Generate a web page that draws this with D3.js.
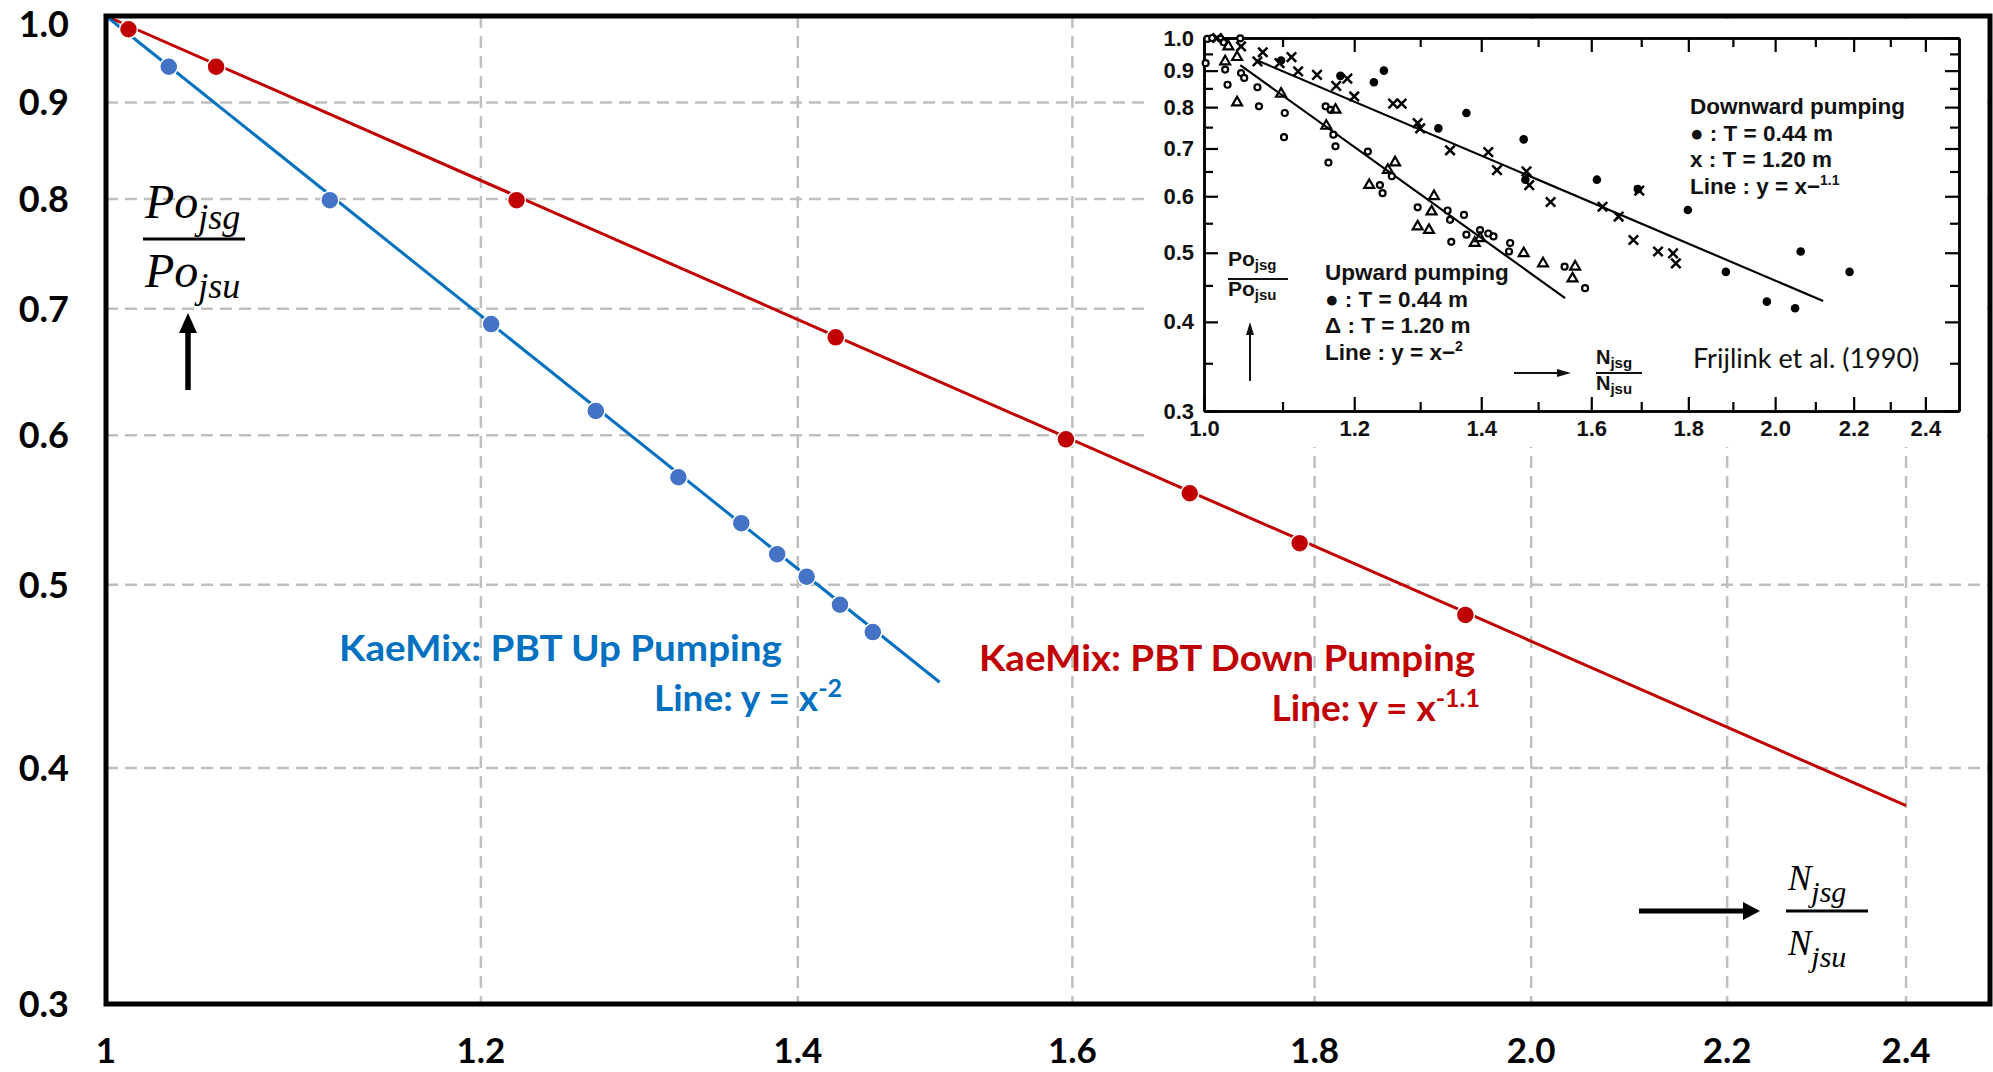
<!DOCTYPE html>
<html>
<head>
<meta charset="utf-8">
<script src="https://cdn.jsdelivr.net/npm/d3@7"></script>
<style>
body { margin: 0; background: #fff; }
</style>
</head>
<body>
<div id="chart"></div>
<script>
// main chart: KaeMix points
var xTicks = [1, 1.2, 1.4, 1.6, 1.8, 2.0, 2.2, 2.4]
var xTickLabels = ['1', '1.2', '1.4', '1.6', '1.8', '2.0', '2.2', '2.4']
var yTicks = [1.0, 0.9, 0.8, 0.7, 0.6, 0.5, 0.4, 0.3]
var yTickLabels = ['1.0', '0.9', '0.8', '0.7', '0.6', '0.5', '0.4', '0.3']

var upX = [1.031, 1.115, 1.206, 1.269, 1.321, 1.362, 1.386, 1.406, 1.429, 1.452]
var upY = [0.940, 0.799, 0.687, 0.618, 0.570, 0.539, 0.519, 0.505, 0.488, 0.472]
var downX = [1.011, 1.055, 1.221, 1.426, 1.595, 1.694, 1.787, 1.937]
var downY = [0.984, 0.940, 0.799, 0.676, 0.597, 0.559, 0.526, 0.482]
// fitted lines y = x^-2 and y = x^-1.1 (end points)
var upLine = [[1, 1], [1.5, 0.444]]
var downLine = [[1, 1], [2.4, 0.382]]

// inset: Frijlink et al. (1990)
var insXTicks = [1.0, 1.2, 1.4, 1.6, 1.8, 2.0, 2.2, 2.4]
var insXMinor = [1.1, 1.3, 1.5, 1.7, 1.9, 2.1, 2.3]
var insYTicks = [1.0, 0.9, 0.8, 0.7, 0.6, 0.5, 0.4, 0.3]
var insYMinor = [0.95, 0.85, 0.75, 0.65, 0.55, 0.45, 0.35]
var insUp044 = [
  [1.004, 0.997], [1.010, 1.0], [1.020, 0.998], [1.024, 0.986], [1.045, 0.999],
  [1.002, 0.922], [1.026, 0.903], [1.029, 0.860], [1.046, 0.893], [1.050, 0.879],
  [1.067, 0.853], [1.069, 0.802], [1.103, 0.785], [1.102, 0.726], [1.159, 0.802],
  [1.166, 0.793], [1.170, 0.732], [1.173, 0.705], [1.163, 0.669], [1.220, 0.693],
  [1.238, 0.622], [1.242, 0.606], [1.256, 0.640], [1.296, 0.579], [1.344, 0.573],
  [1.371, 0.565], [1.348, 0.556], [1.350, 0.518], [1.375, 0.530], [1.398, 0.538],
  [1.412, 0.532], [1.421, 0.527], [1.450, 0.516], [1.448, 0.502], [1.549, 0.478],
  [1.588, 0.446],
]
var insUp120 = [
  [1.030, 0.973], [1.026, 0.927], [1.041, 0.940], [1.041, 0.812], [1.098, 0.835],
  [1.160, 0.753], [1.173, 0.793], [1.222, 0.622], [1.250, 0.653], [1.261, 0.669],
  [1.322, 0.600], [1.318, 0.571], [1.296, 0.544], [1.314, 0.538], [1.389, 0.516],
  [1.398, 0.524], [1.474, 0.499], [1.509, 0.483], [1.569, 0.478], [1.564, 0.460],
]
var insDown044 = [
  [1.098, 0.930], [1.229, 0.867], [1.244, 0.900], [1.180, 0.885], [1.375, 0.785],
  [1.329, 0.747], [1.474, 0.721], [1.477, 0.633], [1.611, 0.633], [1.693, 0.614],
  [1.799, 0.574], [1.884, 0.470], [1.980, 0.427], [2.049, 0.418], [2.063, 0.502],
  [2.189, 0.470],
]
var insDown120 = [
  [1.016, 1.0], [1.046, 0.973], [1.067, 0.927], [1.074, 0.955], [1.096, 0.922],
  [1.112, 0.940], [1.121, 0.898], [1.147, 0.888], [1.174, 0.857], [1.190, 0.877],
  [1.200, 0.828], [1.258, 0.809], [1.271, 0.809], [1.296, 0.760], [1.300, 0.747],
  [1.348, 0.696], [1.412, 0.692], [1.427, 0.653], [1.479, 0.650], [1.484, 0.622],
  [1.523, 0.589], [1.622, 0.580], [1.654, 0.562], [1.684, 0.521], [1.735, 0.502],
  [1.767, 0.499], [1.773, 0.483], [1.696, 0.611],
]
var insUpLine = [[1.045, 0.916], [1.55, 0.432]]
var insDownLine = [[1.067, 0.930], [2.12, 0.428]]

var red = '#C00000', blueLine = '#0070C0', blueDot = '#4472C4'

var svg = d3
  .select('#chart')
  .append('svg')
  .attr('width', 1993)
  .attr('height', 1072)
  .attr('font-family', "Lato, 'Open Sans', sans-serif")
svg.append('rect').attr('width', 1993).attr('height', 1072).attr('fill', '#fff')

var x = d3.scaleLog().domain([1, 2.5]).range([106, 1990])
var y = d3.scaleLog().domain([0.3, 1]).range([1004, 16])

// grid
svg.append('g')
  .selectAll('line')
  .data(xTicks.slice(1))
  .join('line')
  .attr('x1', d => x(d)).attr('x2', d => x(d))
  .attr('y1', y(1)).attr('y2', y(0.3))
  .attr('stroke', '#BFBFBF').attr('stroke-width', 2.5).attr('stroke-dasharray', '12,8')
svg.append('g')
  .selectAll('line')
  .data(yTicks.slice(1, -1))
  .join('line')
  .attr('x1', x(1)).attr('x2', x(2.5))
  .attr('y1', d => y(d)).attr('y2', d => y(d))
  .attr('stroke', '#BFBFBF').attr('stroke-width', 2.5).attr('stroke-dasharray', '12,7')

// tick labels
svg.append('g')
  .selectAll('text')
  .data(xTicks)
  .join('text')
  .attr('x', d => x(d))
  .attr('y', 1063)
  .attr('text-anchor', 'middle')
  .attr('font-size', 35).attr('font-weight', 700)
  .text((d, i) => xTickLabels[i])
svg.append('g')
  .selectAll('text')
  .data(yTicks)
  .join('text')
  .attr('x', 69)
  .attr('y', d => Math.max(y(d), 24))
  .attr('dy', '0.36em')
  .attr('text-anchor', 'end')
  .attr('font-size', 36).attr('font-weight', 700)
  .text((d, i) => yTickLabels[i])

// fitted lines
var line = d3.line().x(d => x(d[0])).y(d => y(d[1]))
svg.append('path').attr('d', line(downLine)).attr('fill', 'none').attr('stroke', red).attr('stroke-width', 3)
svg.append('path').attr('d', line(upLine)).attr('fill', 'none').attr('stroke', blueLine).attr('stroke-width', 3)

svg.append('g')
  .selectAll('circle')
  .data(downX)
  .join('circle')
  .attr('cx', d => x(d))
  .attr('cy', (d, i) => y(downY[i]))
  .attr('r', 9)
  .attr('fill', red).attr('stroke', '#fff').attr('stroke-width', 1.5)
svg.append('g')
  .selectAll('circle')
  .data(upX)
  .join('circle')
  .attr('cx', d => x(d))
  .attr('cy', (d, i) => y(upY[i]))
  .attr('r', 9)
  .attr('fill', blueDot).attr('stroke', '#fff').attr('stroke-width', 1.5)

// series labels
svg.append('text').attr('x', 339).attr('y', 661).attr('font-size', 36).attr('font-weight', 700).attr('fill', blueLine)
  .attr('textLength', 443).attr('lengthAdjust', 'spacingAndGlyphs')
  .text('KaeMix: PBT Up Pumping')
var t2 = svg.append('text').attr('x', 842).attr('y', 711).attr('text-anchor', 'end').attr('font-size', 37).attr('font-weight', 700).attr('fill', blueLine)
t2.append('tspan').text('Line: y = x')
t2.append('tspan').attr('font-size', 25).attr('dy', -14).text('-2')
svg.append('text').attr('x', 979).attr('y', 671).attr('font-size', 36).attr('font-weight', 700).attr('fill', red)
  .attr('textLength', 496).attr('lengthAdjust', 'spacingAndGlyphs')
  .text('KaeMix: PBT Down Pumping')
var t4 = svg.append('text').attr('x', 1480).attr('y', 721).attr('text-anchor', 'end').attr('font-size', 37).attr('font-weight', 700).attr('fill', red)
t4.append('tspan').text('Line: y = x')
t4.append('tspan').attr('font-size', 25).attr('dy', -14).text('-1.1')

// axis titles
var serif = "'Liberation Serif', 'DejaVu Serif', serif"
function frac(g, x0, yNum, yDen, yBar, barW, big, small, sub, top, bottom) {
  var a = g.append('text').attr('x', x0).attr('y', yNum).attr('font-family', serif).attr('font-style', 'italic').attr('font-size', big)
  a.append('tspan').text(top)
  a.append('tspan').attr('font-size', small).attr('dy', sub).text(bottom[0])
  g.append('line').attr('x1', x0 - 2).attr('x2', x0 - 2 + barW).attr('y1', yBar).attr('y2', yBar).attr('stroke', '#000').attr('stroke-width', 3)
  var b = g.append('text').attr('x', x0).attr('y', yDen).attr('font-family', serif).attr('font-style', 'italic').attr('font-size', big)
  b.append('tspan').text(top)
  b.append('tspan').attr('font-size', small).attr('dy', sub).text(bottom[1])
}
frac(svg, 145, 218, 287, 239, 102, 48, 36, 11, 'Po', ['jsg', 'jsu'])
frac(svg, 1788, 890, 955, 911, 82, 35, 30, 12, 'N', ['jsg', 'jsu'])
svg.append('line').attr('x1', 188).attr('x2', 188).attr('y1', 390).attr('y2', 330).attr('stroke', '#000').attr('stroke-width', 5.5)
svg.append('path').attr('d', 'M179,333L197,333L188,313Z').attr('fill', '#000')
svg.append('line').attr('x1', 1639).attr('x2', 1745).attr('y1', 911).attr('y2', 911).attr('stroke', '#000').attr('stroke-width', 5)
svg.append('path').attr('d', 'M1743,902L1743,920L1760,911Z').attr('fill', '#000')

// ---------- inset ----------
var ins = svg.append('g')
ins.append('rect').attr('x', 1146).attr('y', 19).attr('width', 838).attr('height', 428).attr('fill', '#fff')
var ix = d3.scaleLog().domain([1, 2.5]).range([1204, 1959])
var iy = d3.scaleLog().domain([0.3, 1]).range([411, 38])
var insFont = "'Liberation Sans', Arial, sans-serif"

function axisStyle(g) {
  g.select('.domain').attr('stroke-width', 2.5)
  g.selectAll('.tick line').attr('stroke-width', 2.2)
  g.selectAll('text').attr('font-family', insFont).attr('font-weight', 700).attr('font-size', 22).attr('fill', '#111')
}
ins.append('g').attr('transform', 'translate(0,411)')
  .call(d3.axisBottom(ix).tickValues(insXTicks).tickSize(-14).tickSizeOuter(0).tickPadding(9).tickFormat(d3.format('.1f')))
  .call(axisStyle)
ins.append('g').attr('transform', 'translate(0,411)')
  .call(d3.axisBottom(ix).tickValues(insXMinor).tickSize(-9).tickSizeOuter(0).tickFormat(''))
  .call(axisStyle)
ins.append('g').attr('transform', 'translate(0,38)')
  .call(d3.axisTop(ix).tickValues(insXTicks).tickSize(-14).tickSizeOuter(0).tickFormat(''))
  .call(axisStyle)
ins.append('g').attr('transform', 'translate(0,38)')
  .call(d3.axisTop(ix).tickValues(insXMinor).tickSize(-9).tickSizeOuter(0).tickFormat(''))
  .call(axisStyle)
ins.append('g').attr('transform', 'translate(1204,0)')
  .call(d3.axisLeft(iy).tickValues(insYTicks).tickSize(-14).tickSizeOuter(0).tickPadding(10).tickFormat(d3.format('.1f')))
  .call(axisStyle)
ins.append('g').attr('transform', 'translate(1204,0)')
  .call(d3.axisLeft(iy).tickValues(insYMinor).tickSize(-9).tickSizeOuter(0).tickFormat(''))
  .call(axisStyle)
ins.append('g').attr('transform', 'translate(1959,0)')
  .call(d3.axisRight(iy).tickValues(insYTicks).tickSize(-14).tickSizeOuter(0).tickFormat(''))
  .call(axisStyle)
ins.append('g').attr('transform', 'translate(1959,0)')
  .call(d3.axisRight(iy).tickValues(insYMinor).tickSize(-9).tickSizeOuter(0).tickFormat(''))
  .call(axisStyle)

var iline = d3.line().x(d => ix(d[0])).y(d => iy(d[1]))
ins.append('path').attr('d', iline(insUpLine)).attr('stroke', '#000').attr('stroke-width', 2.2).attr('fill', 'none')
ins.append('path').attr('d', iline(insDownLine)).attr('stroke', '#000').attr('stroke-width', 2.2).attr('fill', 'none')

ins.append('g').selectAll('circle').data(insUp044).join('circle')
  .attr('cx', d => ix(d[0])).attr('cy', d => iy(d[1])).attr('r', 3)
  .attr('fill', '#fff').attr('stroke', '#000').attr('stroke-width', 2.2)
ins.append('g').selectAll('circle').data(insDown044).join('circle')
  .attr('cx', d => ix(d[0])).attr('cy', d => iy(d[1])).attr('r', 4.3)
  .attr('fill', '#000')
ins.append('g').selectAll('path').data(insUp120).join('path')
  .attr('transform', d => 'translate(' + ix(d[0]) + ',' + iy(d[1]) + ')')
  .attr('d', d3.symbol(d3.symbolTriangle2, 70))
  .attr('fill', 'none').attr('stroke', '#000').attr('stroke-width', 2.2)
ins.append('g').selectAll('path').data(insDown120).join('path')
  .attr('transform', d => 'translate(' + ix(d[0]) + ',' + iy(d[1]) + ')')
  .attr('d', d3.symbol(d3.symbolX, 60))
  .attr('fill', 'none').attr('stroke', '#000').attr('stroke-width', 2.5)

function legend(x0, y0, lines) {
  lines.forEach(function(l, i) {
    var t = ins.append('text').attr('x', x0).attr('y', y0 + i * 26.5)
      .attr('font-family', insFont).attr('font-weight', 700).attr('font-size', 22.5).attr('fill', '#111')
    t.append('tspan').text(l[0])
    if (l[1]) t.append('tspan').attr('font-size', 14).attr('dy', -9).text(l[1])
  })
}
legend(1690, 114, [['Downward pumping'], ['\u25CF : T = 0.44 m'], ['x : T = 1.20 m'], ['Line : y = x\u2212', '1.1']])
legend(1325, 280, [['Upward pumping'], ['\u25CF : T = 0.44 m'], ['\u0394 : T = 1.20 m'], ['Line : y = x\u2212', '2']])

ins.append('text').attr('x', 1693).attr('y', 368).attr('font-size', 27).attr('fill', '#111')
  .text('Frijlink et al. (1990)')

function smallFrac(x0, yNum, yBar, yDen, w, big, top, subs) {
  ;[[yNum, subs[0]], [yDen, subs[1]]].forEach(function(p) {
    var t = ins.append('text').attr('x', x0).attr('y', p[0])
      .attr('font-family', insFont).attr('font-weight', 700).attr('font-size', big).attr('fill', '#111')
    t.append('tspan').text(top)
    t.append('tspan').attr('font-size', 15).attr('dy', 4).text(p[1])
  })
  ins.append('line').attr('x1', x0).attr('x2', x0 + w).attr('y1', yBar).attr('y2', yBar).attr('stroke', '#111').attr('stroke-width', 2.2)
}
smallFrac(1228, 266, 279, 296, 60, 21, 'Po', ['jsg', 'jsu'])
smallFrac(1596, 364, 373, 390, 46, 20, 'N', ['jsg', 'jsu'])
ins.append('line').attr('x1', 1250).attr('x2', 1250).attr('y1', 381).attr('y2', 332).attr('stroke', '#111').attr('stroke-width', 2)
ins.append('path').attr('d', 'M1246,335L1254,335L1250,322Z').attr('fill', '#111')
ins.append('line').attr('x1', 1514).attr('x2', 1560).attr('y1', 373).attr('y2', 373).attr('stroke', '#111').attr('stroke-width', 2)
ins.append('path').attr('d', 'M1557,369L1557,377L1571,373Z').attr('fill', '#111')

// frame
svg.append('rect')
  .attr('x', x(1)).attr('y', y(1))
  .attr('width', x(2.5) - x(1)).attr('height', y(0.3) - y(1))
  .attr('fill', 'none').attr('stroke', '#000').attr('stroke-width', 5)
</script>
</body>
</html>
